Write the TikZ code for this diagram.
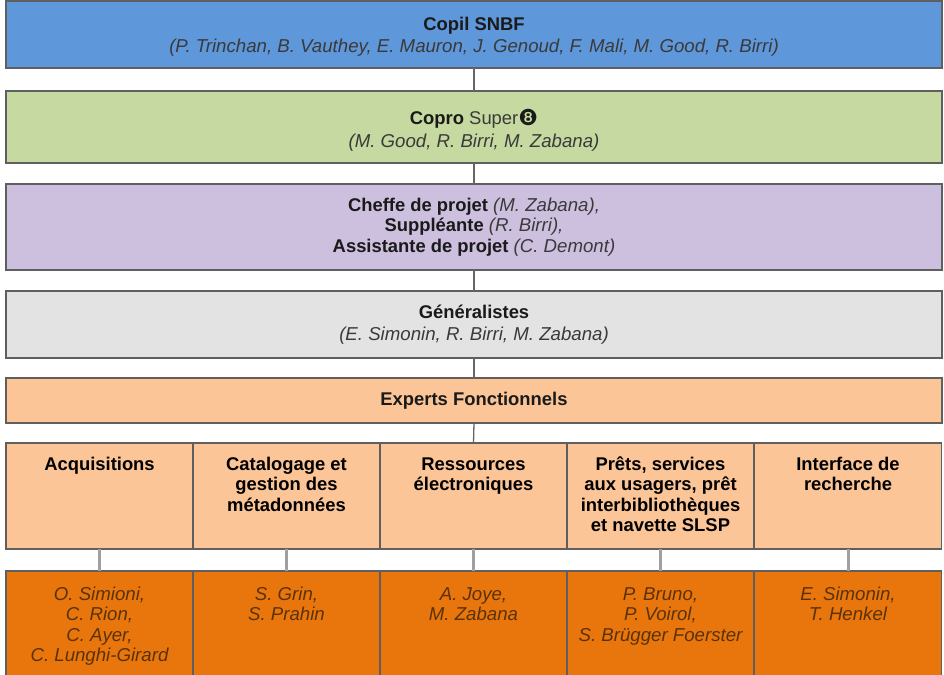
\documentclass[tikz,border=0pt]{standalone}
\usepackage{fontspec}
\setmainfont{Liberation Sans}
\newfontfamily\symfont{DejaVu Sans}
\definecolor{bluebox}{HTML}{5F97DB}
\definecolor{greenbox}{HTML}{C6D9A0}
\definecolor{purplebox}{HTML}{CDBFDE}
\definecolor{greybox}{HTML}{E3E3E3}
\definecolor{peachbox}{HTML}{FBC598}
\definecolor{orangebox}{HTML}{E8760C}
\definecolor{edgegrey}{HTML}{5F5F5F}
\definecolor{linkgrey}{HTML}{666666}
\definecolor{lowlink}{HTML}{A0A0A0}
\definecolor{inktext}{HTML}{1A1A1A}
\definecolor{softtext}{HTML}{3A3A3A}
\definecolor{orangetext}{HTML}{5A3208}
\newcommand{\boxfont}{\fontsize{18.4}{20.4}\selectfont}
\newcommand{\itfont}{\fontsize{18.65}{20.4}\selectfont\itshape}
\tikzset{
  x=1pt,y=-1pt,
  orgbox/.style={draw=edgegrey,line width=1.3pt,inner sep=0pt,outer sep=0pt,align=center,text=inktext,font=\boxfont},
  wide/.style={orgbox,minimum width=936pt},
  headcell/.style={orgbox,fill=peachbox,minimum width=187pt,minimum height=106pt},
  namecell/.style={orgbox,fill=orangebox,minimum width=187pt,minimum height=119pt,text=orangetext},
  link/.style={draw=linkgrey,line width=1.3pt},
  lowlinkline/.style={draw=lowlink,line width=3pt},
  innertext/.style={anchor=north,align=center,inner sep=0pt,font=\boxfont},
  nametext/.style={innertext,text=orangetext,font=\itfont},
}
\newcommand{\who}[1]{{\color{softtext}\itfont #1}}
\newcommand{\bfh}[1]{{\bfseries #1}}
\begin{document}
\begin{tikzpicture}
\useasboundingbox (0,0) rectangle (944,674);
\node[wide,fill=bluebox,minimum height=67pt] (copil) at (474,34.5) {\rule{0pt}{18pt}\bfh{Copil SNBF}\\[1pt]\who{(P. Trinchan, B. Vauthey, E. Mauron, J. Genoud, F. Mali, M. Good, R. Birri)}};
\node[wide,fill=greenbox,minimum height=72pt] (copro) at (474,127) {\rule{0pt}{21pt}\bfh{Copro} {\color{softtext}Super}\raisebox{-1pt}{\symfont\fontsize{22}{20}\selectfont ❽}\\[2.5pt]\who{(M. Good, R. Birri, M. Zabana)}};
\node[wide,fill=purplebox,minimum height=86pt] (chef) at (474,227) {\bfh{Cheffe de projet} \who{(M. Zabana),}\\\bfh{Suppléante} \who{(R. Birri),}\\\bfh{Assistante de projet} \who{(C. Demont)}};
\node[wide,fill=greybox,minimum height=67pt] (gen) at (474,324.5) {\bfh{Généralistes}\\[1.5pt]\who{(E. Simonin, R. Birri, M. Zabana)}};
\node[wide,fill=peachbox,minimum height=45pt] (exp) at (474,400.5) {\bfh{Experts Fonctionnels}};
\node[headcell] (h1) at (99.5,496) {};
\node[headcell] (h2) at (286.5,496) {};
\node[headcell] (h3) at (473.5,496) {};
\node[headcell] (h4) at (660.5,496) {};
\node[headcell] (h5) at (848,496) {};
\node[innertext] at ([yshift=-13pt]h1.north) {\strut\bfh{Acquisitions}};
\node[innertext] at ([yshift=-13pt]h2.north) {\strut\bfh{Catalogage et}\\\bfh{gestion des}\\\bfh{métadonnées}};
\node[innertext] at ([yshift=-13pt]h3.north) {\strut\bfh{Ressources}\\\bfh{électroniques}};
\node[innertext] at ([yshift=-13pt]h4.north) {\strut\bfh{Prêts, services}\\\bfh{aux usagers, prêt}\\\bfh{interbibliothèques}\\\bfh{et navette SLSP}};
\node[innertext] at ([yshift=-13pt]h5.north) {\strut\bfh{Interface de}\\\bfh{recherche}};
\node[namecell] (n1) at (99.5,630.5) {};
\node[namecell] (n2) at (286.5,630.5) {};
\node[namecell] (n3) at (473.5,630.5) {};
\node[namecell] (n4) at (660.5,630.5) {};
\node[namecell] (n5) at (848,630.5) {};
\node[nametext] at ([yshift=-15pt]n1.north) {\strut O. Simioni,\\C. Rion,\\C. Ayer,\\C. Lunghi-Girard};
\node[nametext] at ([yshift=-15pt]n2.north) {\strut S. Grin,\\S. Prahin};
\node[nametext] at ([yshift=-15pt]n3.north) {\strut A. Joye,\\M. Zabana};
\node[nametext] at ([yshift=-15pt]n4.north) {\strut P. Bruno,\\P. Voirol,\\S. Brügger Foerster};
\node[nametext] at ([yshift=-15pt]n5.north) {\strut E. Simonin,\\T. Henkel};
\draw[link] (copil.south) -- (copro.north);
\draw[link] (copro.south) -- (chef.north);
\draw[link] (chef.south) -- (gen.north);
\draw[link] (gen.south) -- (exp.north);
\draw[link] (exp.south) -- (h3.north);
\foreach \i in {1,...,5} \draw[lowlinkline] (h\i.south) -- (n\i.north);
\end{tikzpicture}
\end{document}
